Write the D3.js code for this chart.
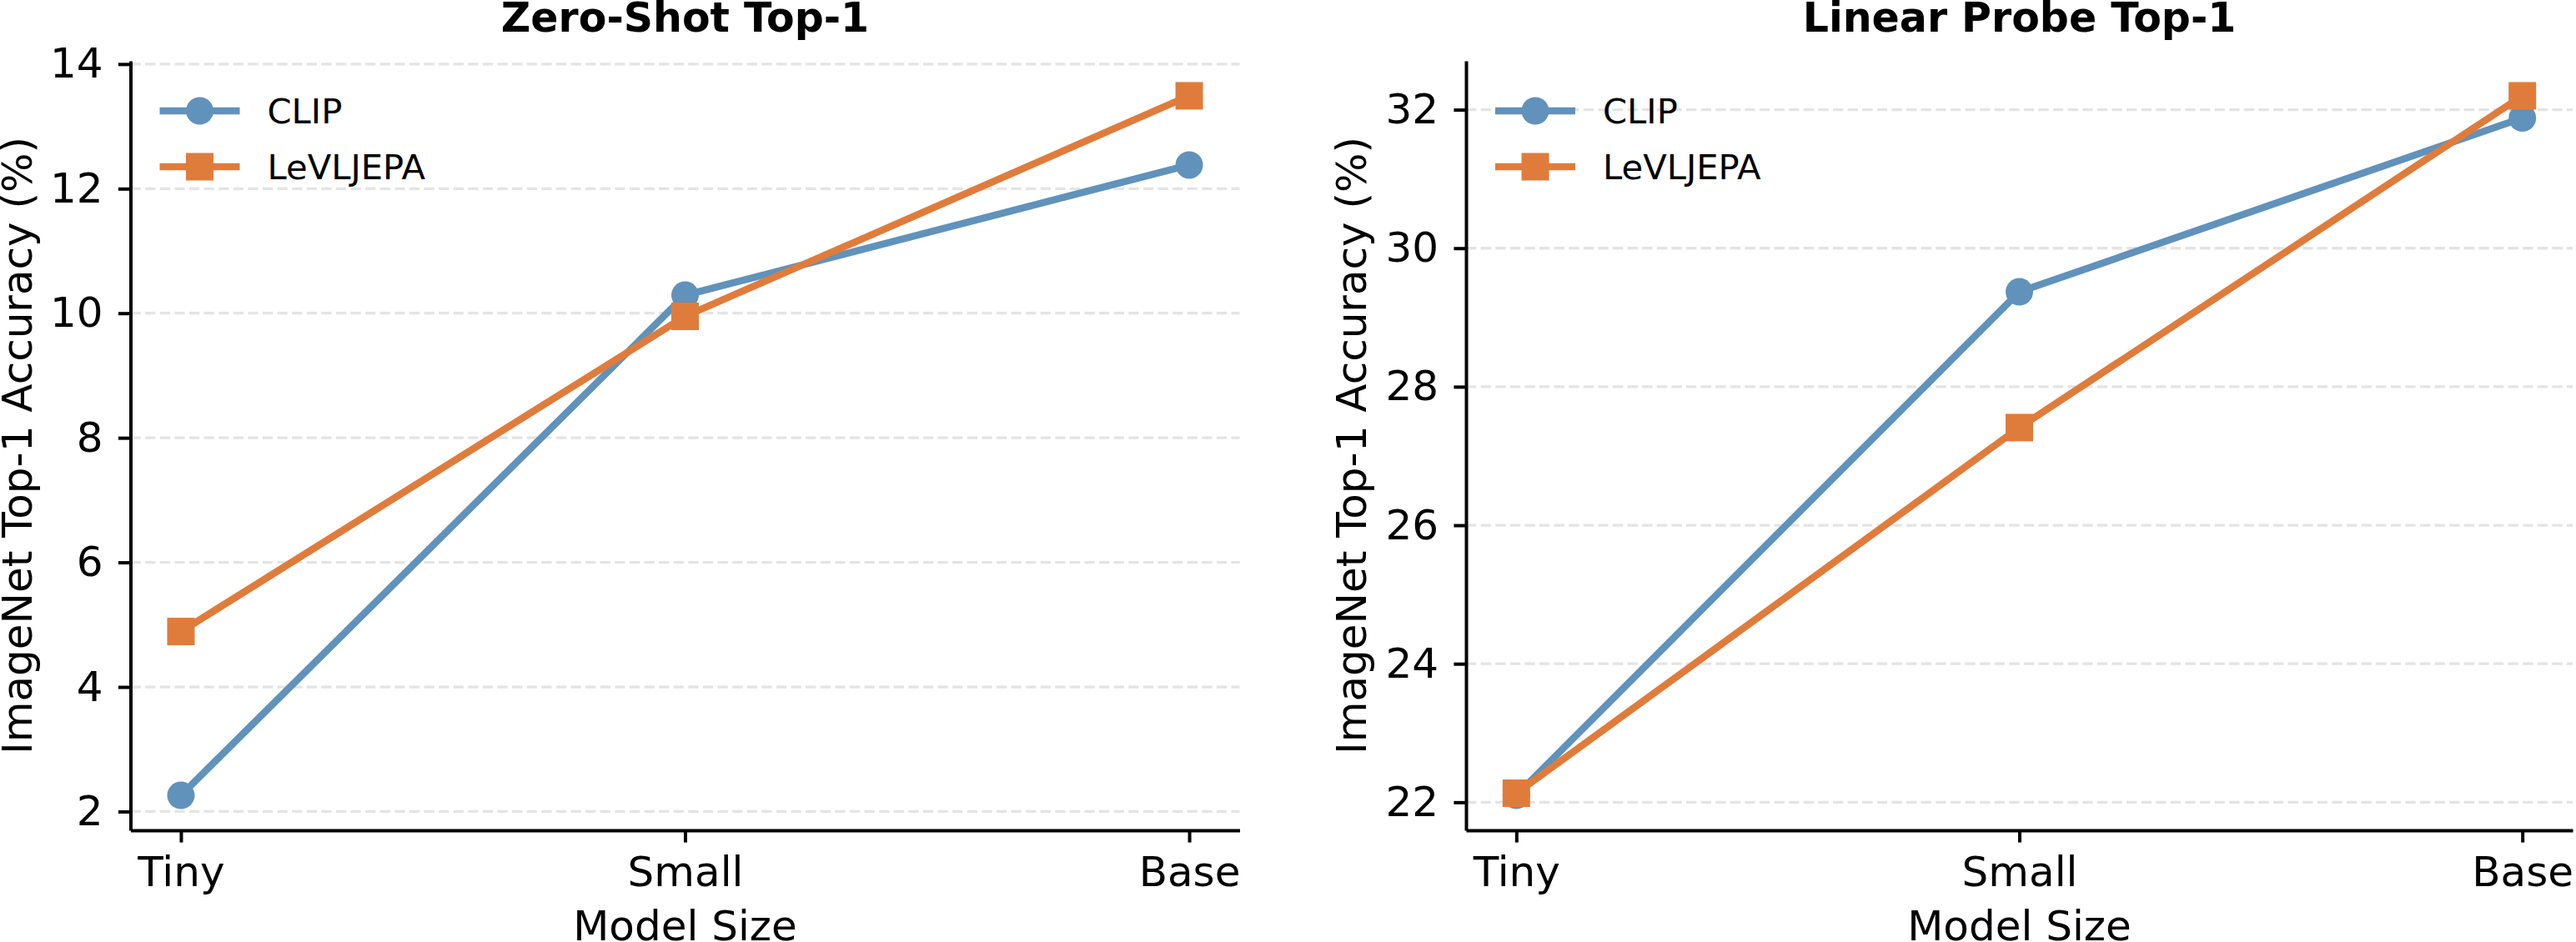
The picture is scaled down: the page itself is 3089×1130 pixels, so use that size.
<!DOCTYPE html>
<html>
<head>
<meta charset="utf-8">
<script src="https://cdn.jsdelivr.net/npm/d3@7"></script>
<style>
  body { margin: 0; background: #fff; }
  text { font-family: 'DejaVu Sans', sans-serif; fill: #000; }
</style>
</head>
<body>
<div id="chart"></div>
<script>
const categories = ['Tiny', 'Small', 'Base'];
const seriesNames = ['CLIP', 'LeVLJEPA'];

// Zero-shot top-1 (%)
const zeroShotClip = [2.26, 10.29, 12.38];
const zeroShotLeVLJEPA = [4.89, 9.95, 13.49];
const zeroShotTicks = [2, 4, 6, 8, 10, 12, 14];

// Linear probe top-1 (%)
const linearClip = [22.1, 29.37, 31.88];
const linearLeVLJEPA = [22.13, 27.41, 32.2];
const linearTicks = [22, 24, 26, 28, 30, 32];

const width = 3089;
const height = 1130;
const colors = { CLIP: '#6092bb', LeVLJEPA: '#e07c3b' };

const svg = d3.select('#chart')
  .append('svg')
  .attr('width', width)
  .attr('height', height);

const panels = [
  { title: 'Zero-Shot Top-1', series: [zeroShotClip, zeroShotLeVLJEPA], ticks: zeroShotTicks,
    left: 156.5, right: 1486.5, labelX: 38 },
  { title: 'Linear Probe Top-1', series: [linearClip, linearLeVLJEPA], ticks: linearTicks,
    left: 1758, right: 3085, labelX: 1638 }
];
const plotTop = 73;
const plotBottom = 996;

panels.forEach((p) => {
  const w = p.right - p.left;
  const h = plotBottom - plotTop;
  const g = svg.append('g').attr('transform', `translate(${p.left}, ${plotTop})`);

  const x = d3.scalePoint()
    .domain(categories)
    .range([0, w])
    .padding(0.1);

  // matplotlib style 5% margins
  const all = p.series.flat();
  const [lo, hi] = d3.extent(all);
  const m = (hi - lo) * 0.05;
  const y = d3.scaleLinear()
    .domain([lo - m, hi + m])
    .range([h, 0]);

  // grid
  g.append('g')
    .selectAll('line')
    .data(p.ticks)
    .join('line')
    .attr('x1', 0)
    .attr('x2', w)
    .attr('y1', (d) => y(d))
    .attr('y2', (d) => y(d))
    .attr('stroke', '#e4e4e4')
    .attr('stroke-width', 3.3)
    .attr('stroke-dasharray', '12.3,5.3');

  // series
  p.series.forEach((vals, i) => {
    const name = seriesNames[i];
    const pts = vals.map((v, j) => [x(categories[j]), y(v)]);
    g.append('path')
      .attr('d', d3.line()(pts))
      .attr('fill', 'none')
      .attr('stroke', colors[name])
      .attr('stroke-width', 8.5)
      .attr('stroke-linejoin', 'round');
    if (name === 'CLIP') {
      g.selectAll(null)
        .data(pts)
        .join('circle')
        .attr('cx', (d) => d[0])
        .attr('cy', (d) => d[1])
        .attr('r', 16.5)
        .attr('fill', colors[name]);
    } else {
      g.selectAll(null)
        .data(pts)
        .join('rect')
        .attr('x', (d) => d[0] - 16.5)
        .attr('y', (d) => d[1] - 16.5)
        .attr('width', 33)
        .attr('height', 33)
        .attr('fill', colors[name]);
    }
  });

  // axes
  const xAxis = g.append('g')
    .attr('transform', `translate(0, ${h})`)
    .call(d3.axisBottom(x).tickSize(14.6).tickSizeOuter(0).tickPadding(17));
  const yAxis = g.append('g')
    .call(d3.axisLeft(y).tickValues(p.ticks).tickSize(14.6).tickSizeOuter(0).tickPadding(18.4));

  [xAxis, yAxis].forEach((ax) => {
    ax.select('.domain').attr('stroke', '#000').attr('stroke-width', 4);
    ax.selectAll('.tick line').attr('stroke', '#000').attr('stroke-width', 4);
    ax.selectAll('.tick text')
      .attr('font-size', '50px')
      .attr('font-family', 'DejaVu Sans')
      .attr('fill', '#000');
  });

  // title
  svg.append('text')
    .attr('x', p.left + w / 2)
    .attr('y', 38)
    .attr('text-anchor', 'middle')
    .attr('font-size', '49px')
    .attr('font-weight', 'bold')
    .text(p.title);

  // x label
  svg.append('text')
    .attr('x', p.left + w / 2)
    .attr('y', 1128)
    .attr('text-anchor', 'middle')
    .attr('font-size', '50px')
    .text('Model Size');

  // y label
  svg.append('text')
    .attr('transform', `translate(${p.labelX}, ${plotTop + h / 2}) rotate(-90)`)
    .attr('text-anchor', 'middle')
    .attr('font-size', '50px')
    .text('ImageNet Top-1 Accuracy (%)');

  // legend
  seriesNames.forEach((name, i) => {
    const row = g.append('g').attr('transform', `translate(35, ${60 + i * 67})`);
    row.append('line')
      .attr('x1', 0)
      .attr('x2', 96)
      .attr('stroke', colors[name])
      .attr('stroke-width', 8.5);
    if (name === 'CLIP') {
      row.append('circle').attr('cx', 48).attr('r', 16.5).attr('fill', colors[name]);
    } else {
      row.append('rect').attr('x', 31.5).attr('y', -16.5).attr('width', 33).attr('height', 33)
        .attr('fill', colors[name]);
    }
    row.append('text')
      .attr('x', 129)
      .attr('y', 15)
      .attr('font-size', '41.7px')
      .text(name);
  });
});
</script>
</body>
</html>
